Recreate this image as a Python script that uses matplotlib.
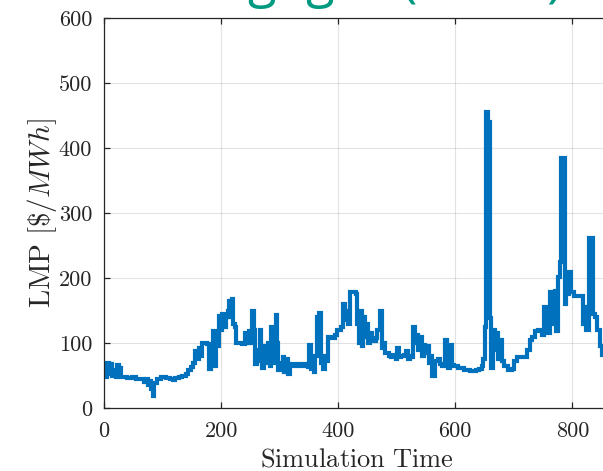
import matplotlib
matplotlib.use("Agg")
import matplotlib.pyplot as plt
from matplotlib.ticker import FuncFormatter

# ---- data (step / stairs series) ----
sim_time = [0, 3, 5, 8, 11, 14, 17, 20, 23, 26, 29, 32, 40, 48, 55, 62, 68, 72, 75, 78,
            81, 84, 86, 90, 98, 106, 112, 118, 122, 128, 134, 140, 144, 148, 152, 156, 159,
            162, 165, 168, 176, 179, 183, 186, 189, 192, 196, 199, 202, 205, 208, 211, 213,
            216, 218, 220, 223, 226, 235, 240, 244, 247, 250, 253, 256, 258, 261, 264, 266,
            268, 270, 274, 277, 280, 283, 285, 288, 291, 293, 296, 298, 302, 305, 308, 311,
            314, 318, 323, 330, 336, 342, 348, 350, 353, 356, 358, 361, 364, 366, 368, 371,
            374, 377, 380, 383, 388, 394, 398, 404, 408, 411, 414, 417, 420, 430, 432, 435,
            437, 440, 442, 445, 448, 451, 454, 458, 464, 467, 471, 474, 477, 480, 486, 490,
            494, 498, 500, 503, 508, 512, 516, 519, 522, 526, 528, 531, 534, 537, 540, 543,
            546, 549, 552, 555, 558, 561, 565, 570, 574, 578, 582, 585, 588, 591, 594, 598,
            605, 615, 625, 635, 640, 645, 648, 650, 653, 656, 659, 661, 664, 667, 670, 673,
            676, 679, 684, 690, 696, 700, 706, 716, 722, 727, 731, 736, 742, 748, 752, 756,
            758, 761, 766, 770, 772, 775, 778, 780, 787, 789, 792, 795, 798, 802, 818, 821,
            824, 829, 836, 839, 842, 847, 850, 858, 865]
lmp = [65, 48, 70, 52, 68, 50, 58, 48, 66, 62, 48, 47, 46, 47, 45, 44, 40, 44, 36, 41,
       30, 18, 38, 45, 47, 46, 44, 43, 46, 48, 50, 52, 58, 63, 70, 88, 75,
       92, 80, 100, 98, 60, 75, 118, 65, 95, 142, 120, 145, 125, 140, 150, 165,
       140, 168, 130, 125, 100, 98, 115, 100, 118, 100, 150, 120, 68, 90, 72, 120,
       85, 62, 95, 70, 100, 65, 125, 70, 75, 143, 100, 58, 70, 78, 55, 75,
       52, 68, 65, 67, 65, 67, 63, 97, 60, 75, 55, 80, 140, 100, 146, 70,
       60, 80, 72, 110, 108, 112, 120, 125, 160, 135, 150, 130, 178, 175, 130, 100,
       150, 95, 140, 110, 130, 100, 115, 103, 108, 120, 150, 92, 100, 85, 80, 78,
       82, 75, 92, 78, 80, 82, 88, 76, 80, 78, 125, 100, 112, 90, 110, 80,
       97, 85, 95, 70, 80, 50, 72, 75, 68, 65, 105, 70, 62, 97, 66, 64,
       62, 59, 57, 58, 60, 65, 75, 125, 455, 440, 138, 62, 120, 90, 115, 75,
       105, 72, 65, 58, 60, 72, 78, 79, 90, 105, 110, 118, 120, 112, 155, 120,
       115, 178, 130, 180, 118, 202, 225, 385, 160, 208, 175, 210, 178, 172, 130, 155,
       120, 262, 145, 140, 120, 95, 82, 90, 90]

x_ticks = [0, 200, 400, 600, 800]
y_ticks = [0, 100, 200, 300, 400, 500, 600]
title_text = "Rangegro (SCED)"
x_label = r"$\mathrm{Simulation\ Time}$"
y_label = r"$\mathrm{LMP}\ [\$/MWh]$"

plt.rcParams["mathtext.fontset"] = "cm"
plt.rcParams["font.family"] = "cmr10"
plt.rcParams["axes.formatter.use_mathtext"] = True

W, H = 603, 471
fig = plt.figure(figsize=(W / 100, H / 100), dpi=100)
x_max = 865
ax_w = 0.5855 * x_max / W
ax = fig.add_axes([104 / W, 63 / H, ax_w, 390 / H])

ax.step(sim_time, lmp, where="post", color="#0072BD", linewidth=3.0,
        solid_joinstyle="miter")

ax.set_xlim(0, x_max)
ax.set_ylim(0, 600)
ax.set_xticks(x_ticks)
ax.set_yticks(y_ticks)
fmt = FuncFormatter(lambda v, p: f"{int(v)}")
ax.xaxis.set_major_formatter(fmt)
ax.yaxis.set_major_formatter(fmt)

ax.grid(True, color="#262626", alpha=0.13, linewidth=0.8)
ax.set_axisbelow(True)
for s in ax.spines.values():
    s.set_color("#262626")
    s.set_linewidth(0.9)
ax.tick_params(direction="in", length=4.5, width=0.9, color="#262626",
               labelsize=16, labelcolor="#262626", top=True, right=True)
ax.tick_params(axis="x", pad=9.5)
ax.tick_params(axis="y", pad=8.5)

ax.set_xlabel(x_label, fontsize=19, color="#262626", labelpad=5)
ax.set_ylabel(y_label, fontsize=21, color="#262626", labelpad=0)

fig.text(358 / W, 1 + 3.5 / H, title_text, ha="center", va="baseline",
         fontsize=38, color="#009a80", family="Open Sans")

fig.savefig("out.png", dpi=100)
